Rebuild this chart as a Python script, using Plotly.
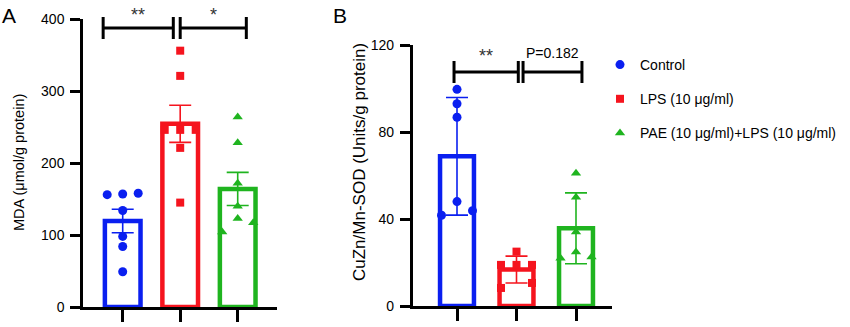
import numpy as np
import plotly.graph_objects as go

# ---------------- data ----------------
groups = ["Control", "LPS (10 μg/ml)", "PAE (10 μg/ml)+LPS (10 μg/ml)"]
mda_control = [156, 157, 158, 134, 98, 84, 49]
mda_lps = [356, 321, 246, 246, 246, 221, 145]
mda_pae = [264, 228, 172, 140, 104, 123, 117]
sod_control = [99.6, 93, 86.8, 41.7, 48, 43.8]
sod_lps = [25, 18.9, 18.9, 18.9, 8.3, 10.6]
sod_pae = [61, 50, 34, 22, 24.8, 22.5]
mda_ticks = [0, 100, 200, 300, 400]
sod_ticks = [0, 40, 80, 120]
mda_brackets = [(0, 1, "**"), (1, 2, "*")]
sod_brackets = [(0, 1, "**"), (1, 2, "P=0.182")]
mda_title = "MDA (μmol/g protein)"
sod_title = "CuZn/Mn-SOD (Units/g protein)"

# ---------------- style / layout ----------------
W, H = 850, 327
FONT = "Liberation Sans, Arial, Helvetica, sans-serif"
colors = ["#0a1ff0", "#f5141e", "#1fb41f"]
symbols = ["circle", "square", "triangle-up"]
msizes = [9, 8, 9]

panels = {
    "A": dict(left=83, right=277, bottom=307, top=19, ymax=400, c0=122.7, step=57.5,
              barw=0.62, err="sem", series=[mda_control, mda_lps, mda_pae],
              ticks=mda_ticks, brackets=mda_brackets, bracket_px=28, label_px=12,
              pads=[(-0.34, -0.12), (0.0, 0.15)], title=mda_title, title_x=19,
              title_y=163, title_size=14.5, letter_x=9, xa="x", ya="y", xo="x3", yo="y3"),
    "B": dict(left=412.7, right=612, bottom=306, top=45, ymax=120, c0=457, step=59.5,
              barw=0.57, err="sd", series=[sod_control, sod_lps, sod_pae],
              ticks=sod_ticks, brackets=sod_brackets, bracket_px=72, label_px=53,
              pads=[(-0.05, 0.03), (0.11, 0.10)], title=sod_title, title_x=359,
              title_y=162, title_size=17, letter_x=340, xa="x2", ya="y2", xo="x4", yo="y4"),
}


def swarm(vals, ppu, step_units, thresh_px=9.5):
    """Spread points whose values are close (in pixels) side by side."""
    vals = np.asarray(vals, float)
    order = np.argsort(-vals, kind="stable")
    clusters, cur = [], [order[0]]
    for a, b in zip(order[:-1], order[1:]):
        if (vals[a] - vals[b]) * ppu < thresh_px:
            cur.append(b)
        else:
            clusters.append(cur)
            cur = [b]
    clusters.append(cur)
    offs = np.zeros(len(vals))
    for cl in clusters:
        cl = sorted(cl)  # data order -> left to right
        n = len(cl)
        if n == 1:
            continue
        if n == 2:
            pos = [-1, 1]
        else:
            pos = np.arange(n) - (n - 1) / 2
        for i, p in zip(cl, pos):
            offs[i] = p * step_units
    return offs


fig = go.Figure()
layout = dict(width=W, height=H, margin=dict(l=0, r=0, t=0, b=0, autoexpand=False),
              paper_bgcolor="white", plot_bgcolor="rgba(0,0,0,0)",
              font=dict(family=FONT, size=14, color="black"),
              barmode="overlay", showlegend=True)
shapes, annotations = [], []

for key, p in panels.items():
    ppu = (p["bottom"] - p["top"]) / p["ymax"]
    xr = [(p["left"] - p["c0"]) / p["step"], (p["right"] - p["c0"]) / p["step"]]
    xdom = [p["left"] / W, p["right"] / W]
    ydom = [(H - p["bottom"]) / H, (H - p["top"]) / H]
    ov_max = p["ymax"] * (1 - ydom[0]) / (ydom[1] - ydom[0])
    xn, yn = p["xa"].replace("x", "xaxis"), p["ya"].replace("y", "yaxis")
    xon, yon = p["xo"].replace("x", "xaxis"), p["yo"].replace("y", "yaxis")
    layout[xn] = dict(domain=xdom, range=xr, anchor=p["ya"], showline=True, linecolor="black",
                      linewidth=2.5, ticks="outside", ticklen=12, tickwidth=2.5,
                      tickcolor="black", tickvals=[0, 1, 2], showticklabels=False,
                      showgrid=False, zeroline=False, automargin=False)
    layout[yn] = dict(domain=ydom, range=[0, p["ymax"]], anchor=p["xa"], showline=True,
                      linecolor="black", linewidth=2.5, ticks="outside", ticklen=10,
                      tickwidth=2.5, tickcolor="black", tickvals=p["ticks"],
                      tickfont=dict(size=14, family=FONT, color="black"),
                      showgrid=False, zeroline=False, ticklabelstandoff=3, automargin=False)
    layout[xon] = dict(domain=xdom, range=xr, anchor=p["yo"], visible=False, automargin=False)
    layout[yon] = dict(domain=[ydom[0], 1.0], range=[0, ov_max], anchor=p["xo"], visible=False,
                       automargin=False)

    for i, vals in enumerate(p["series"]):
        arr = np.asarray(vals, float)
        mean = arr.mean()
        sd = arr.std(ddof=1)
        err = sd / np.sqrt(len(arr)) if p["err"] == "sem" else sd
        fig.add_trace(go.Bar(x=[i], y=[mean], width=p["barw"], xaxis=p["xa"], yaxis=p["ya"],
                             marker=dict(color="rgba(255,255,255,0)",
                                         line=dict(color=colors[i], width=4.5)),
                             error_y=dict(type="data", array=[err], visible=True,
                                          color=colors[i], thickness=1.6, width=11),
                             showlegend=False, hoverinfo="skip"))
    for i, vals in enumerate(p["series"]):
        offs = swarm(vals, ppu, 15.5 / p["step"])
        fig.add_trace(go.Scatter(x=i + offs, y=vals, mode="markers", xaxis=p["xa"],
                                 yaxis=p["ya"], name=groups[i], legendgroup=groups[i],
                                 showlegend=(key == "A"), cliponaxis=False,
                                 marker=dict(symbol=symbols[i], size=msizes[i],
                                             color=colors[i], line=dict(width=0))))

    # significance brackets on the overlay axes
    yb = (p["bottom"] - p["bracket_px"]) / ppu
    ylab = (p["bottom"] - p["label_px"]) / ppu
    cap = 11 / ppu
    for (a, b, lab), (pa, pb) in zip(p["brackets"], p["pads"]):
        x0, x1 = a + pa, b + pb
        line = dict(color="black", width=3)
        shapes.append(dict(type="line", xref=p["xo"], yref=p["yo"], x0=x0, x1=x1, y0=yb, y1=yb, line=line))
        for xx in (x0, x1):
            shapes.append(dict(type="line", xref=p["xo"], yref=p["yo"], x0=xx, x1=xx,
                               y0=yb - cap, y1=yb + cap, line=line))
        is_star = lab.startswith("*")
        annotations.append(dict(x=(x0 + x1) / 2, y=ylab - (3 / ppu if is_star else 0), xref=p["xo"], yref=p["yo"],
                                text=lab, showarrow=False, xanchor="center", yanchor="middle",
                                font=dict(size=18 if is_star else 14, color="#333333" if is_star else "black",
                                          family=FONT)))
    annotations.append(dict(x=p["title_x"] / W, y=(H - p["title_y"]) / H, xref="paper", yref="paper",
                            text=p["title"], textangle=-90, showarrow=False, xanchor="center",
                            yanchor="middle", font=dict(size=p["title_size"], family=FONT)))
    annotations.append(dict(x=p["letter_x"] / W, y=(H - 16) / H, xref="paper", yref="paper",
                            text=key, showarrow=False, xanchor="center", yanchor="middle",
                            font=dict(size=21, family=FONT)))

layout["shapes"] = shapes
layout["annotations"] = annotations
layout["legend"] = dict(x=600 / W, y=(H - 49) / H, xanchor="left", yanchor="top",
                        font=dict(size=14, family=FONT), tracegroupgap=13,
                        bgcolor="rgba(0,0,0,0)", itemclick=False)
fig.update_layout(**layout)
fig.write_html("out.html")
